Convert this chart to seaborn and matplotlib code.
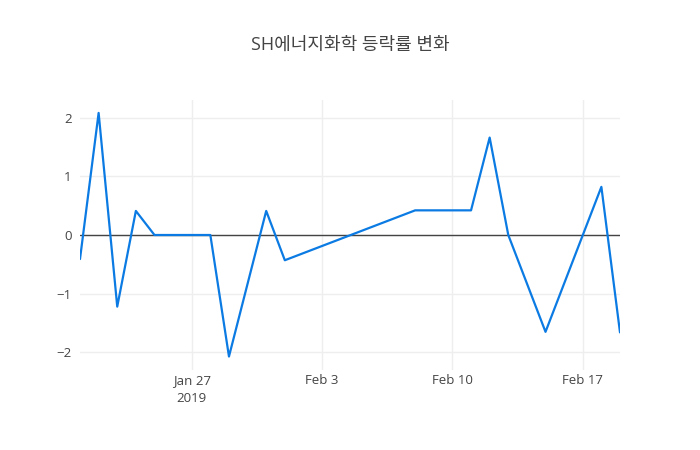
import matplotlib
matplotlib.use("Agg")
import matplotlib.pyplot as plt
import seaborn as sns
import pandas as pd

dates = ["2019-01-21", "2019-01-22", "2019-01-23", "2019-01-24", "2019-01-25",
         "2019-01-28", "2019-01-29", "2019-01-31", "2019-02-01",
         "2019-02-08", "2019-02-11", "2019-02-12", "2019-02-13",
         "2019-02-15", "2019-02-18", "2019-02-19"]
changes = [-0.41, 2.08, -1.22, 0.41, 0.0,
           0.0, -2.07, 0.41, -0.43,
           0.42, 0.42, 1.66, 0.0,
           -1.65, 0.82, -1.66]
tick_dates = ["2019-01-27", "2019-02-03", "2019-02-10", "2019-02-17"]
tick_labels = ["Jan 27\n2019", "Feb 3", "Feb 10", "Feb 17"]
y_ticks = [-2, -1, 0, 1, 2]
y_labels = ["\u22122", "\u22121", "0", "1", "2"]
title = "SH에너지화학 등락률 변화"

df = pd.DataFrame({"date": pd.to_datetime(dates), "change": changes})

sns.set_theme(style="white")
plt.rcParams['font.family'] = ['Open Sans', 'Noto Sans CJK KR', 'DejaVu Sans']

fig = plt.figure(figsize=(7, 4.5), dpi=100)
ax = fig.add_axes([80/700, 80/450, 540/700, 270/450])

sns.lineplot(data=df, x="date", y="change", ax=ax, color="#0b7be3", linewidth=1.6, zorder=3)

ax.set_xlim(pd.Timestamp("2019-01-21"), pd.Timestamp("2019-02-19"))
ax.set_ylim(-2.30, 2.30)

ax.set_xticks(pd.to_datetime(tick_dates))
ax.set_xticklabels(tick_labels)
ax.set_yticks(y_ticks)
ax.set_yticklabels(y_labels)

ax.grid(True, color="#eeeeee", linewidth=1)
ax.axhline(0, color="#444444", linewidth=1, zorder=2)
for s in ax.spines.values():
    s.set_visible(False)
ax.tick_params(axis="both", length=0, labelsize=9.5, colors="#444444")
ax.tick_params(axis="x", pad=3)
ax.tick_params(axis="y", pad=6)
for lbl in ax.get_xticklabels():
    lbl.set_linespacing(1.45)
ax.set_xlabel("")
ax.set_ylabel("")

fig.text(0.5, 1 - 45/450, title, ha="center", va="center", fontsize=13, color="#444444")

fig.savefig("out.png", dpi=100, facecolor="white")
